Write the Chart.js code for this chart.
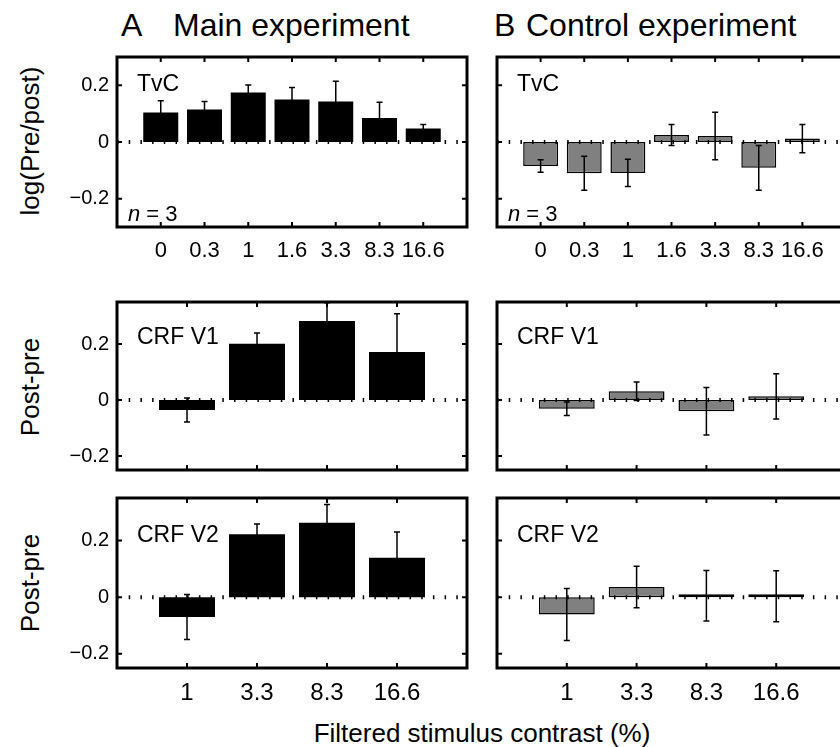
<!DOCTYPE html>
<html>
<head>
<meta charset="utf-8">
<script src="https://cdn.jsdelivr.net/npm/chart.js@4.4.1/dist/chart.umd.min.js"></script>
<style>
  html, body { margin: 0; padding: 0; background: #fff; }
  body { width: 840px; height: 747px; overflow: hidden; position: relative;
         font-family: 'Liberation Sans', Arial, sans-serif; color: #000; }
  canvas { position: absolute; }
  .txt { position: absolute; white-space: nowrap; line-height: 1; }
  .head { font-size: 32px; top: 9px; }
  .ytitle { font-size: 26px; width: 200px; text-align: center; transform: rotate(-90deg); }
</style>
</head>
<body>
<div class="txt head" style="left:121px">A</div>
<div class="txt head" style="left:173px">Main experiment</div>
<div class="txt head" style="left:494px">B</div>
<div class="txt head" style="left:526px">Control experiment</div>
<div class="txt ytitle" style="left:-70px; top:128px">log(Pre/post)</div>
<div class="txt ytitle" style="left:-70px; top:374px">Post-pre</div>
<div class="txt ytitle" style="left:-70px; top:570px">Post-pre</div>
<div class="txt" style="font-size:26px; left:0; width:964px; text-align:center; top:720px">Filtered stimulus contrast (%)</div>

<canvas id="a1" width="480" height="220" style="left:0;top:47px"></canvas>
<canvas id="b1" width="400" height="220" style="left:460px;top:47px"></canvas>
<canvas id="a2" width="480" height="218" style="left:0;top:292px"></canvas>
<canvas id="b2" width="400" height="218" style="left:460px;top:292px"></canvas>
<canvas id="a3" width="480" height="220" style="left:0;top:488px"></canvas>
<canvas id="b3" width="400" height="220" style="left:460px;top:488px"></canvas>

<script>
// contrast levels (%)
const tvcLabels = ['0', '0.3', '1', '1.6', '3.3', '8.3', '16.6'];
const crfLabels = ['1', '3.3', '8.3', '16.6'];

// A: main experiment (mean, sem)
const mainTvc = [0.104, 0.115, 0.175, 0.150, 0.143, 0.085, 0.048];
const mainTvcErr = [0.042, 0.028, 0.026, 0.042, 0.071, 0.055, 0.014];
const mainV1 = [-0.036, 0.201, 0.282, 0.171];
const mainV1Err = [0.043, 0.038, 0.065, 0.137];
const mainV2 = [-0.070, 0.222, 0.263, 0.139];
const mainV2Err = [0.079, 0.036, 0.064, 0.091];

// B: control experiment
const ctrlTvc = [-0.085, -0.110, -0.109, 0.025, 0.021, -0.091, 0.012];
const ctrlTvcErr = [0.022, 0.060, 0.048, 0.037, 0.084, 0.079, 0.050];
const ctrlV1 = [-0.031, 0.031, -0.040, 0.013];
const ctrlV1Err = [0.024, 0.033, 0.085, 0.081];
const ctrlV2 = [-0.061, 0.036, 0.005, 0.003];
const ctrlV2Err = [0.092, 0.073, 0.089, 0.090];

const yTicks = [-0.2, 0, 0.2];

Chart.defaults.font.family = "'Liberation Sans', Arial, sans-serif";
Chart.defaults.color = '#000';

const panelPlugin = {
  id: 'panel',
  afterDatasetsDraw(chart, args, opts) {
    const { ctx, chartArea: a, scales: { x, y } } = chart;
    const pts = chart.data.datasets[0].data;

    ctx.save();
    ctx.beginPath();
    ctx.rect(a.left, a.top, a.right - a.left, a.bottom - a.top);
    ctx.clip();

    // error bars
    ctx.strokeStyle = '#000';
    ctx.lineWidth = 1.5;
    pts.forEach((p, i) => {
      const px = x.getPixelForValue(p.x);
      const lo = y.getPixelForValue(p.y - opts.errors[i]);
      const hi = y.getPixelForValue(p.y + opts.errors[i]);
      ctx.beginPath();
      ctx.moveTo(px, lo); ctx.lineTo(px, hi);
      ctx.moveTo(px - 3, lo); ctx.lineTo(px + 3, lo);
      ctx.moveTo(px - 3, hi); ctx.lineTo(px + 3, hi);
      ctx.stroke();
    });

    // dotted zero line
    const y0 = y.getPixelForValue(0);
    ctx.setLineDash([1.5, 10.2]);
    ctx.lineWidth = 4;
    ctx.beginPath();
    ctx.moveTo(a.left, y0);
    ctx.lineTo(a.right, y0);
    ctx.stroke();
    ctx.restore();

    // frame with inward ticks
    ctx.save();
    ctx.strokeStyle = '#000';
    ctx.lineWidth = 3;
    ctx.strokeRect(a.left, a.top, a.right - a.left, a.bottom - a.top);
    ctx.lineWidth = 2;
    ctx.beginPath();
    x.ticks.forEach(t => {
      const px = x.getPixelForValue(t.value);
      ctx.moveTo(px, a.top); ctx.lineTo(px, a.top + 5);
      ctx.moveTo(px, a.bottom); ctx.lineTo(px, a.bottom - 5);
    });
    y.ticks.forEach(t => {
      const py = y.getPixelForValue(t.value);
      ctx.moveTo(a.left, py); ctx.lineTo(a.left + 5, py);
      ctx.moveTo(a.right, py); ctx.lineTo(a.right - 5, py);
    });
    ctx.stroke();

    // panel label and n
    ctx.fillStyle = '#000';
    ctx.textBaseline = 'alphabetic';
    ctx.font = "23px 'Liberation Sans', Arial, sans-serif";
    ctx.fillText(opts.label, a.left + 20, a.top + opts.labelY);
    if (opts.showN) {
      ctx.font = "italic 22px 'Liberation Sans', Arial, sans-serif";
      ctx.fillText('n', a.left + 11, a.bottom - 6);
      const w = ctx.measureText('n').width;
      ctx.font = "22px 'Liberation Sans', Arial, sans-serif";
      ctx.fillText(' = 3', a.left + 11 + w, a.bottom - 6);
    }
    ctx.restore();
  }
};

function fmt(v) {
  if (v === 0) return '0';
  return v < 0 ? '\u2212' + (-v) : String(v);
}

function panel(id, labels, values, errors, o) {
  return new Chart(document.getElementById(id), {
    type: 'bar',
    data: {
      datasets: [{
        data: values.map((v, i) => ({ x: i + 1, y: v })),
        backgroundColor: o.fill,
        borderColor: '#000',
        borderWidth: o.border,
        borderSkipped: false,
        minBarLength: o.minBar,
        barPercentage: 0.8,
        categoryPercentage: 1
      }]
    },
    options: {
      responsive: false,
      animation: false,
      layout: { padding: { top: 10, right: o.padRight, left: 0, bottom: 0 } },
      plugins: {
        legend: { display: false },
        tooltip: { enabled: false },
        panel: { errors: errors, label: o.label, labelY: o.labelY, showN: o.showN }
      },
      scales: {
        x: {
          type: 'linear', min: 0, max: labels.length + 1, offset: false,
          grid: { display: false, drawTicks: false },
          border: { display: false },
          afterBuildTicks: s => { s.ticks = labels.map((_, i) => ({ value: i + 1 })); },
          afterFit: s => { s.height = 40; s.paddingLeft = 0; s.paddingRight = 0; },
          ticks: {
            display: o.xLabels, padding: 11, autoSkip: false, maxRotation: 0,
            font: { size: o.xFont }, callback: v => labels[v - 1]
          }
        },
        y: {
          min: o.yMin, max: o.yMax,
          grid: { display: false, drawTicks: false },
          border: { display: false },
          afterBuildTicks: s => { s.ticks = yTicks.map(v => ({ value: v })); },
          afterFit: s => { s.width = o.yWidth; s.paddingTop = 0; s.paddingBottom = 0; },
          ticks: { display: o.yLabels, padding: 8, font: { size: 20 }, callback: fmt }
        }
      }
    },
    plugins: [panelPlugin]
  });
}

const mainStyle = { fill: '#000', border: 0, minBar: 0, padRight: 13, yWidth: 117, yLabels: true };
const ctrlStyle = { fill: '#808080', border: 1.5, minBar: 3, padRight: 14, yWidth: 37, yLabels: false };
const row1 = { yMin: -0.3, yMax: 0.3, label: 'TvC', labelY: 34, showN: true, xLabels: true, xFont: 22 };
const row2 = { yMin: -0.25, yMax: 0.35, label: 'CRF V1', labelY: 42, showN: false, xLabels: false, xFont: 24 };
const row3 = { yMin: -0.25, yMax: 0.35, label: 'CRF V2', labelY: 44, showN: false, xLabels: true, xFont: 24 };

panel('a1', tvcLabels, mainTvc, mainTvcErr, { ...mainStyle, ...row1 });
panel('b1', tvcLabels, ctrlTvc, ctrlTvcErr, { ...ctrlStyle, ...row1 });
panel('a2', crfLabels, mainV1, mainV1Err, { ...mainStyle, ...row2 });
panel('b2', crfLabels, ctrlV1, ctrlV1Err, { ...ctrlStyle, ...row2 });
panel('a3', crfLabels, mainV2, mainV2Err, { ...mainStyle, ...row3 });
panel('b3', crfLabels, ctrlV2, ctrlV2Err, { ...ctrlStyle, ...row3 });
</script>
</body>
</html>
